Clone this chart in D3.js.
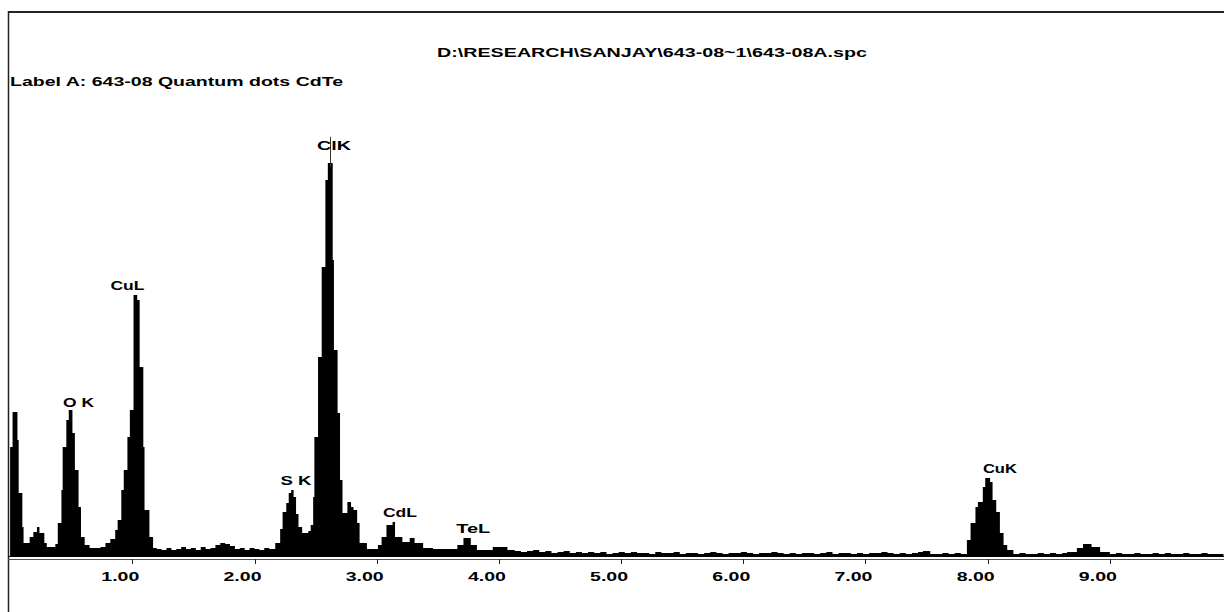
<!DOCTYPE html>
<html><head><meta charset="utf-8">
<script src="https://cdn.jsdelivr.net/npm/d3@7"></script>
<style>
html,body{margin:0;padding:0;background:#fff;}
svg{display:block;}
text{font-family:"Liberation Sans",Arial,sans-serif;font-weight:bold;fill:#000;}
</style></head>
<body>
<svg id="chart" width="1224" height="612"></svg>
<script>
// Spectrum channels (keV start of each step) and counts
const energyKeV = [0.00,0.02,0.06,0.07,0.10,0.11,0.16,0.19,0.22,0.24,0.28,0.30,0.37,0.39,0.42,0.43,0.46,0.48,0.51,0.53,
  0.56,0.58,0.61,0.65,0.74,0.78,0.82,0.86,0.88,0.91,0.93,0.96,0.98,1.01,1.04,1.06,1.09,1.10,1.14,1.17,
  1.20,1.24,1.28,1.32,1.36,1.40,1.44,1.48,1.52,1.56,1.60,1.64,1.68,1.72,1.76,1.80,1.84,1.88,1.92,1.96,
  2.00,2.04,2.08,2.12,2.17,2.21,2.23,2.26,2.28,2.30,2.32,2.34,2.36,2.39,2.44,2.46,2.48,2.49,2.52,2.55,
  2.58,2.60,2.64,2.65,2.68,2.70,2.72,2.76,2.79,2.81,2.84,2.86,2.92,3.01,3.04,3.08,3.13,3.15,3.21,3.27,
  3.31,3.38,3.46,3.56,3.66,3.71,3.77,3.82,3.95,4.07,4.13,4.18,4.23,4.28,4.33,4.38,4.43,4.48,4.53,4.58,
  4.63,4.68,4.73,4.78,4.83,4.88,4.93,4.98,5.03,5.08,5.13,5.18,5.23,5.28,5.33,5.38,5.43,5.48,5.53,5.58,
  5.63,5.68,5.73,5.78,5.83,5.88,5.93,5.98,6.03,6.08,6.13,6.18,6.23,6.28,6.33,6.38,6.43,6.48,6.53,6.58,
  6.63,6.68,6.73,6.78,6.83,6.88,6.93,6.98,7.03,7.08,7.13,7.18,7.23,7.28,7.33,7.38,7.43,7.47,7.53,7.58,
  7.63,7.68,7.73,7.78,7.83,7.86,7.90,7.92,7.96,7.98,8.02,8.04,8.07,8.10,8.13,8.16,8.21,8.26,8.31,8.36,
  8.41,8.46,8.51,8.56,8.61,8.65,8.73,8.78,8.85,8.92,9.00,9.05,9.10,9.15,9.20,9.25,9.30,9.35,9.40,9.45,
  9.50,9.55,9.60,9.65,9.70,9.75,9.80,9.85,9.93];
const counts = [110,145,117,64,30,14,20,25,30,24,14,10,13,34,67,110,137,147,124,87,
  50,20,12,9,10,14,18,27,37,67,87,120,147,262,257,190,110,47,20,9,
  8,7,9,7,8,10,8,9,7,10,8,9,12,14,13,11,8,9,7,9,
  8,7,9,8,14,28,45,54,64,67,60,43,30,24,26,32,60,120,200,290,
  377,394,297,207,144,77,44,55,50,47,34,14,8,12,20,32,35,20,15,19,
  14,9,8,8,12,19,12,7,10,7,6,5,6,7,5,6,4,5,6,4,
  5,4,5,4,5,3,4,5,4,5,4,4,3,5,4,4,5,3,4,4,
  3,4,5,4,3,4,4,5,4,3,4,4,5,4,3,4,3,4,4,3,
  4,5,3,4,4,3,4,3,4,4,5,4,3,4,3,4,5,6,3,3,
  4,3,4,3,17,34,50,55,70,79,75,57,45,24,12,7,3,4,3,3,
  4,3,4,3,4,5,9,13,10,5,3,4,3,3,4,3,3,4,3,4,
  3,3,4,3,3,4,3,3,3];

// Axis ticks
const tickValues = [1,2,3,4,5,6,7,8,9];
const tickLabels = ["1.00","2.00","3.00","4.00","5.00","6.00","7.00","8.00","9.00"];

// Peak identification labels
const peakNames = ["O K","CuL","S K","ClK","CdL","TeL","CuK"];
const peakEnergy = [0.56,0.96,2.34,2.65,3.19,3.79,8.10];
const peakLabelLevel = [150,267,72,407,40,24,84];
const markerEnergy = 2.62;
const markerTop = 420;

const titleText = "D:\\RESEARCH\\SANJAY\\643-08~1\\643-08A.spc";
const labelText = "Label A: 643-08 Quantum dots CdTe";

const svg = d3.select("#chart");
const x = d3.scaleLinear().domain([-0.0173, 9.934]).range([8, 1224]);
const y = d3.scaleLinear().domain([0, 420]).range([557, 137]);

// frame
svg.append("line").attr("x1",8).attr("x2",1224).attr("y1",12).attr("y2",12)
  .attr("stroke","#222").attr("stroke-width",2);
svg.append("line").attr("x1",8.5).attr("x2",8.5).attr("y1",11).attr("y2",612)
  .attr("stroke","#222").attr("stroke-width",1.5);

// title + label
svg.append("text").attr("x",437).attr("y",57).attr("font-size",13)
  .attr("textLength",430).attr("lengthAdjust","spacingAndGlyphs").text(titleText);
svg.append("text").attr("x",10).attr("y",86).attr("font-size",13)
  .attr("textLength",333).attr("lengthAdjust","spacingAndGlyphs").text(labelText);

// spectrum
const pts = energyKeV.map((e,i)=>({e, c:counts[i]}));
const area = d3.area().curve(d3.curveStepAfter)
  .x(d=>x(d.e)).y0(y(0)).y1(d=>y(d.c));
svg.append("path").datum(pts).attr("d",area).attr("fill","#000").attr("stroke","none");

// baseline double line
svg.append("line").attr("x1",8).attr("x2",1224).attr("y1",556.5).attr("y2",556.5)
  .attr("stroke","#000").attr("stroke-width",1);
svg.append("line").attr("x1",8).attr("x2",1224).attr("y1",559.5).attr("y2",559.5)
  .attr("stroke","#555").attr("stroke-width",1);

// ticks
const ax = svg.append("g");
ax.selectAll("line.t").data(tickValues).join("line")
  .attr("x1",d=>Math.round(x(d))+0.5).attr("x2",d=>Math.round(x(d))+0.5)
  .attr("y1",559).attr("y2",564).attr("stroke","#222").attr("stroke-width",1);
ax.selectAll("text.t").data(tickValues).join("text")
  .attr("x",d=>x(d)-12).attr("y",581).attr("font-size",13)
  .attr("text-anchor","middle").attr("textLength",38).attr("lengthAdjust","spacingAndGlyphs")
  .text((d,i)=>tickLabels[i]);

// peak marker line (Cl K)
svg.append("line").attr("x1",Math.round(x(markerEnergy))+0.5).attr("x2",Math.round(x(markerEnergy))+0.5)
  .attr("y1",y(markerTop)).attr("y2",y(390)).attr("stroke","#333").attr("stroke-width",1);

// peak labels
svg.selectAll("text.p").data(peakNames).join("text")
  .attr("x",(d,i)=>x(peakEnergy[i])).attr("y",(d,i)=>y(peakLabelLevel[i]))
  .attr("font-size",13).attr("text-anchor","middle")
  .attr("textLength",d=>d.indexOf(" ")>=0?31:34).attr("lengthAdjust","spacingAndGlyphs")
  .text(d=>d);
</script>
</body></html>
